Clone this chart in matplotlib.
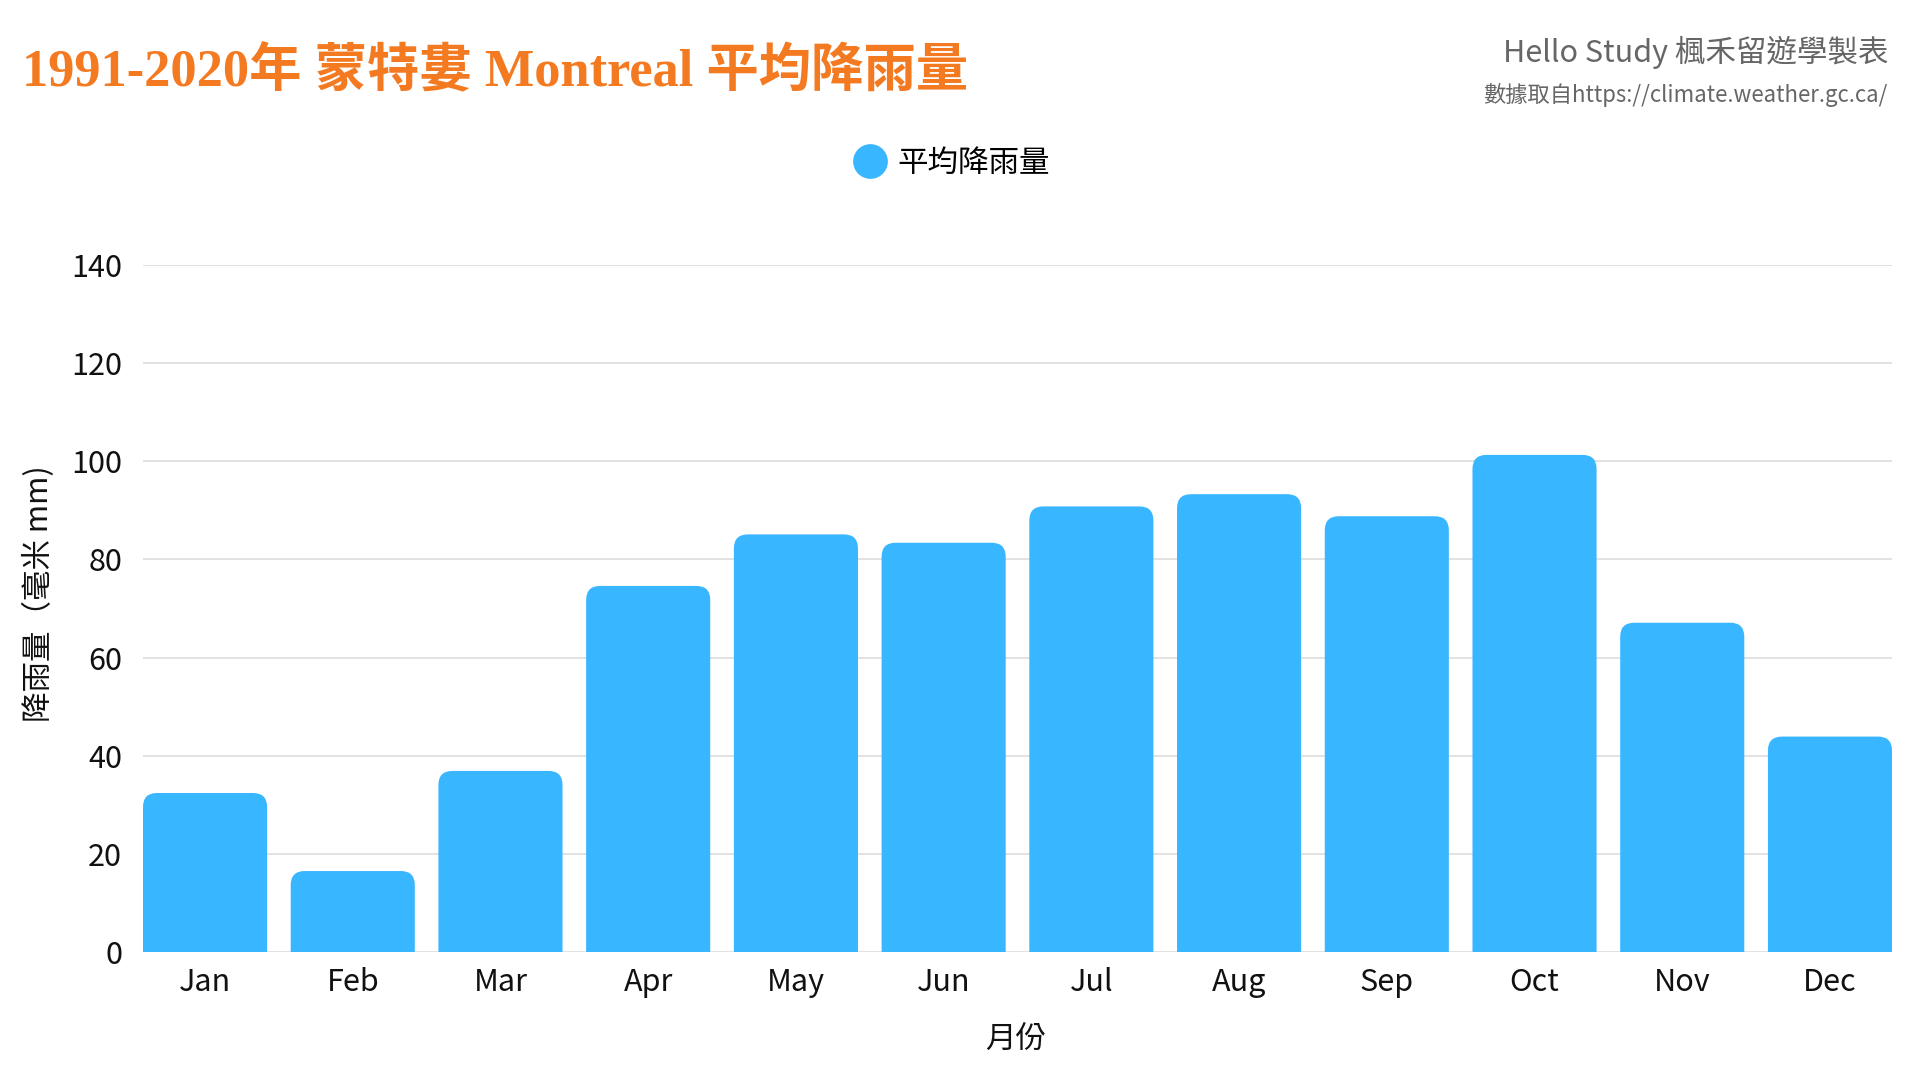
import matplotlib
matplotlib.use("Agg")
import matplotlib.pyplot as plt
from matplotlib.patches import FancyBboxPatch
from matplotlib.lines import Line2D

plt.rcParams['font.family'] = ['Noto Sans CJK TC', 'DejaVu Sans']

months = ["Jan", "Feb", "Mar", "Apr", "May", "Jun", "Jul", "Aug", "Sep", "Oct", "Nov", "Dec"]
rain = [32.4, 16.5, 36.9, 74.6, 85.1, 83.4, 90.8, 93.3, 88.8, 101.3, 67.1, 43.9]
yticks = [0, 20, 40, 60, 80, 100, 120, 140]

title = "1991-2020年 蒙特婁 Montreal 平均降雨量"
credit = "Hello Study 楓禾留遊學製表"
source = "數據取自https://climate.weather.gc.ca/"
series_name = "平均降雨量"
xlabel = "月份"
ylabel = "降雨量（毫米 mm)"

bar_color = "#38B6FF"
W, H = 1920, 1080
fig = plt.figure(figsize=(W / 100, H / 100), dpi=100)
left_px, right_px, top_px, bottom_px = 143, 1892, 265, 952
ax = fig.add_axes([left_px / W, 1 - bottom_px / H, (right_px - left_px) / W, (bottom_px - top_px) / H])

bw = 0.84
xlim = (-bw / 2, len(months) - 1 + bw / 2)
ylim = (0, 140)
ax.set_xlim(*xlim)
ax.set_ylim(*ylim)

px_per_x = (right_px - left_px) / (xlim[1] - xlim[0])
px_per_y = (bottom_px - top_px) / (ylim[1] - ylim[0])
r_px = 14
rx = r_px / px_per_x
aspect = (r_px / px_per_y) / rx

for i, v in enumerate(rain):
    p = FancyBboxPatch((i - bw / 2, -10), bw, v + 10,
                       boxstyle=f"round,pad=0,rounding_size={rx}",
                       mutation_aspect=aspect, facecolor=bar_color,
                       edgecolor="none", zorder=3)
    ax.add_patch(p)

ax.set_yticks(yticks)
ax.set_yticklabels([str(t) for t in yticks])
ax.set_xticks(range(len(months)))
ax.set_xticklabels(months)
ax.tick_params(axis='y', length=0, pad=15, labelsize=22, labelcolor="#111111")
ax.tick_params(axis='x', length=0, pad=11, labelsize=22, labelcolor="#111111")
ax.grid(axis='y', color="#dddddd", linewidth=1.2, zorder=0)
ax.set_axisbelow(True)
for s in ax.spines.values():
    s.set_visible(False)

fig.text(1016 / W, 1 - 1040 / H, xlabel, fontsize=22, ha='center', va='center', color="#111111")
fig.text(39 / W, 1 - 594 / H, ylabel, rotation=90, fontsize=22, ha='center', va='center', color="#111111")

fig.text(22 / W, 1 - 72 / H, title, fontsize=37.7, fontweight='bold', color="#F47A22", ha='left', va='center',
         family=['Liberation Serif', 'Noto Sans CJK TC'])
fig.text(1888 / W, 1 - 52 / H, credit, fontsize=22, color="#666666", ha='right', va='center')
fig.text(1888 / W, 1 - 95 / H, source, fontsize=16, color="#666666", ha='right', va='center')

handle = Line2D([], [], marker='o', linestyle='', markersize=24, markerfacecolor=bar_color, markeredgecolor=bar_color)
fig.legend([handle], [series_name], loc='center', bbox_to_anchor=(951 / W, 1 - 163 / H), frameon=False,
           fontsize=22, handletextpad=0.3, handlelength=1.2)

fig.savefig("out.png", dpi=100, facecolor="white")
